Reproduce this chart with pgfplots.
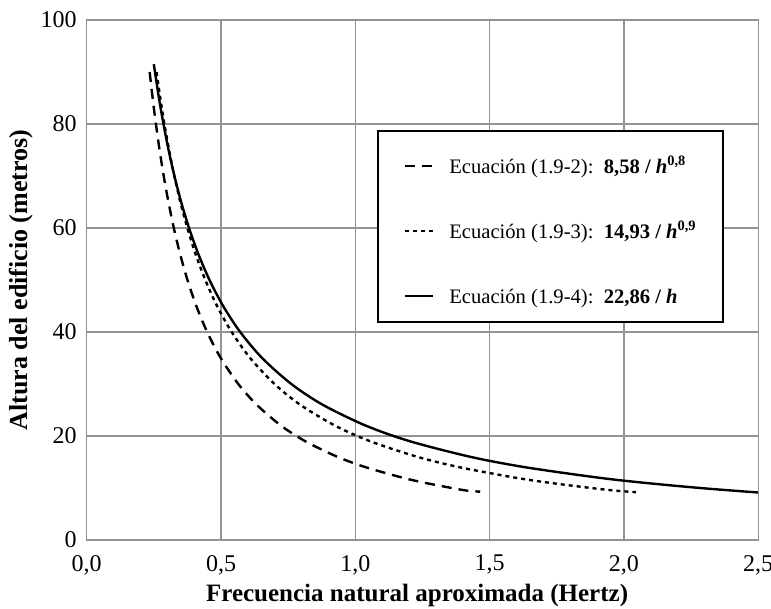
\documentclass[border=0pt]{standalone}
\usepackage{fontspec}
\setmainfont{Liberation Serif}
\usepackage{pgfplots}
\pgfplotsset{compat=1.18}
\usetikzlibrary{calc}

\begin{document}
\begin{tikzpicture}
\begin{axis}[
    name=ax,
    width=335.7pt, height=260pt, scale only axis,
    xmin=0, xmax=2.5, ymin=0, ymax=100,
    xtick={0,0.5,1,1.5,2,2.5},
    ytick={0,20,40,60,80,100},
    grid=major,
    grid style={gray!85, line width=0.6pt},
    axis line style={gray!85, line width=0.6pt},
    tick style={draw=none},
    /pgf/number format/assume math mode=true,
    xticklabel style={/pgf/number format/.cd, fixed, fixed zerofill, precision=1, use comma, /tikz/.cd, yshift=-4pt},
    yticklabel style={xshift=-1.5pt},
    tick label style={font=\fontsize{12}{14}\selectfont},
    xlabel={Frecuencia natural aproximada (Hertz)},
    ylabel={Altura del edificio (metros)},
    xlabel style={font=\fontsize{12.5}{14}\selectfont\bfseries,
      at={(axis description cs:0.492,-0.106)}, anchor=center},
    ylabel style={font=\fontsize{13}{15}\selectfont\bfseries,
      at={(axis description cs:-0.098,0.5)}, anchor=center},
    legend style={at={(axis cs:1.081,78.8)}, anchor=north west,
      draw=black, line width=0.9pt, fill=white,
      inner xsep=13pt, inner ysep=8pt, row sep=18pt, column sep=7.5pt,
      nodes={inner sep=0pt, text height=13pt, text depth=1.5pt},
      cells={anchor=base west},
      font=\fontsize{10.3}{12}\selectfont},
    legend image code/.code={\draw[#1] (0pt,3.5pt) -- (14pt,3.5pt);},
]
\addplot[black, line width=1.2pt, smooth, dash pattern=on 5pt off 3.5pt] coordinates {
  (0.2344,90) (0.2454,85) (0.2577,80) (0.2713,75) (0.2867,70) (0.3043,65)
  (0.3243,60) (0.3477,55) (0.3752,50) (0.4082,45) (0.4485,40) (0.4991,35)
  (0.5645,30) (0.6332,26) (0.7235,22) (0.8137,19) (0.9336,16) (1.0389,14)
  (1.1753,12) (1.2599,11) (1.3597,10) (1.4168,9.5) (1.465,9.3)};
\addlegendentry{Ecuación (1.9-2):\hspace{0.5em}\textbf{8,58 / \textit{h}\textsuperscript{0,8}}}
\addplot[black, line width=1.2pt, smooth, dash pattern=on 2pt off 2pt] coordinates {
  (0.2601,90) (0.2739,85) (0.2892,80) (0.3066,75) (0.3261,70) (0.3486,65)
  (0.3748,60) (0.4053,55) (0.4416,50) (0.4854,45) (0.5398,40) (0.6086,35)
  (0.6993,30) (0.7954,26) (0.9245,22) (1.0551,19) (1.2312,16) (1.3885,14)
  (1.5951,12) (1.7250,11) (1.8797,10) (1.9684,9.5) (2.045,9.2)};
\addlegendentry{Ecuación (1.9-3):\hspace{0.5em}\textbf{14,93 / \textit{h}\textsuperscript{0,9}}}
\addplot[black, line width=1.2pt, smooth] coordinates {
  (0.2498,91.5) (0.2689,85) (0.2858,80) (0.3048,75) (0.3266,70) (0.3517,65)
  (0.3810,60) (0.4156,55) (0.4572,50) (0.5080,45) (0.5715,40) (0.6531,35)
  (0.7620,30) (0.8792,26) (1.0391,22) (1.2032,19) (1.4288,16) (1.6329,14)
  (1.9050,12) (2.0782,11) (2.2860,10) (2.5,9.14)};
\addlegendentry{Ecuación (1.9-4):\hspace{0.5em}\textbf{22,86 / \textit{h}}}
\end{axis}
\pgfresetboundingbox
\path[use as bounding box] ($(ax.south west)+(-43.35pt,-34pt)$) rectangle ($(ax.north east)+(6.4pt,10pt)$);
\end{tikzpicture}
\end{document}
